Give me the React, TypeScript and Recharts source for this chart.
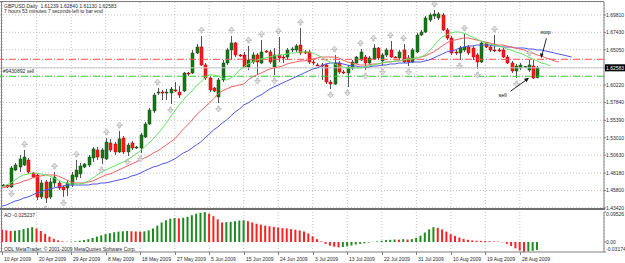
import React from "react";
import {
  Bar,
  CartesianGrid,
  Cell,
  ComposedChart,
  Line,
  ReferenceDot,
  ReferenceLine,
  XAxis,
  YAxis,
} from "recharts";

const FONT = "'Liberation Sans', Arial, sans-serif";
const TXT = "#2a2a2a";
const GRID = "#c4c4c4";
const FRAME = "#808080";
const BULL = "#127a12";
const BEAR = "#ff1a1a";
const WICK = "#555555";

const W = 625;
const AXIS_W = 21;
const SLOTS = 140;

// GBPUSD daily, 10 Apr 2009 .. 2 Sep 2009 (ODL feed with Sunday bars)
const dateLabels = [
  "10 Apr 2009", "20 Apr 2009", "29 Apr 2009", "8 May 2009", "18 May 2009", "27 May 2009",
  "5 Jun 2009", "15 Jun 2009", "24 Jun 2009", "3 Jul 2009", "13 Jul 2009", "22 Jul 2009",
  "31 Jul 2009", "10 Aug 2009", "19 Aug 2009", "28 Aug 2009",
];
const dateIdx = [0, 8, 16, 24, 32, 40, 48, 56, 64, 72, 80, 88, 96, 104, 112, 120];

const open = [
  1.4650, 1.4655, 1.4628, 1.4860, 1.4901, 1.4929, 1.4997, 1.4819, 1.4792, 1.4491,
  1.4696, 1.4491, 1.4683, 1.4683, 1.4628, 1.4614, 1.4655, 1.4765, 1.4806, 1.4901,
  1.4929, 1.5025, 1.5134, 1.5025, 1.5011, 1.5230, 1.5216, 1.5107, 1.5298, 1.5107,
  1.5230, 1.5161, 1.5161, 1.5312, 1.5490, 1.5668, 1.5914, 1.5927, 1.5914, 1.5914,
  1.5955, 1.5927, 1.5941, 1.6187, 1.6187, 1.6461, 1.6543, 1.6297, 1.6119, 1.5982,
  1.5859, 1.6092, 1.6324, 1.6502, 1.6598, 1.6434, 1.6434, 1.6269, 1.6338, 1.6434,
  1.6324, 1.6488, 1.6475, 1.6269, 1.6434, 1.6406, 1.6406, 1.6502, 1.6502, 1.6570,
  1.6475, 1.6475, 1.6338, 1.6297, 1.6297, 1.6297, 1.6064, 1.6037, 1.6324, 1.6201,
  1.6187, 1.6256, 1.6324, 1.6365, 1.6406, 1.6324, 1.6379, 1.6529, 1.6352, 1.6434,
  1.6502, 1.6406, 1.6393, 1.6502, 1.6393, 1.6338, 1.6475, 1.6707, 1.6748, 1.6912,
  1.6967, 1.6940, 1.6981, 1.6776, 1.6666, 1.6475, 1.6461, 1.6502, 1.6543, 1.6529,
  1.6434, 1.6338, 1.6598, 1.6543, 1.6502, 1.6502, 1.6502, 1.6406, 1.6324, 1.6215,
  1.6256, 1.6269, 1.6228, 1.6283, 1.61239,
];
const high = [
  1.4669, 1.4669, 1.4915, 1.4956, 1.5066, 1.5134, 1.5025, 1.4833, 1.4806, 1.4724,
  1.4724, 1.4751, 1.4833, 1.4710, 1.4642, 1.4724, 1.4833, 1.4997, 1.4956, 1.4956,
  1.5066, 1.5175, 1.5175, 1.5161, 1.5298, 1.5285, 1.5243, 1.5394, 1.5326, 1.5230,
  1.5257, 1.5189, 1.5367, 1.5517, 1.5709, 1.5914, 1.5982, 1.5955, 1.5968, 1.5996,
  1.6064, 1.6010, 1.6201, 1.6201, 1.6502, 1.6584, 1.6694, 1.6324, 1.6146, 1.5996,
  1.6119, 1.6365, 1.6529, 1.6694, 1.6611, 1.6447, 1.6475, 1.6557, 1.6475, 1.6461,
  1.6639, 1.6502, 1.6502, 1.6529, 1.6680, 1.6434, 1.6529, 1.6543, 1.6584, 1.6803,
  1.6502, 1.6502, 1.6365, 1.6324, 1.6324, 1.6311, 1.6092, 1.6434, 1.6352, 1.6228,
  1.6297, 1.6365, 1.6420, 1.6516, 1.6434, 1.6420, 1.6584, 1.6543, 1.6461, 1.6529,
  1.6625, 1.6420, 1.6502, 1.6584, 1.6434, 1.6529, 1.6735, 1.6776, 1.6967, 1.7008,
  1.7049, 1.7022, 1.7008, 1.6803, 1.6694, 1.6502, 1.6557, 1.6721, 1.6570, 1.6557,
  1.6461, 1.6611, 1.6611, 1.6570, 1.6707, 1.6529, 1.6529, 1.6434, 1.6352, 1.6311,
  1.6324, 1.6283, 1.6379, 1.6365, 1.62840,
];
const low = [
  1.4628, 1.4614, 1.4614, 1.4847, 1.4833, 1.4915, 1.4806, 1.4751, 1.4450, 1.4464,
  1.4409, 1.4464, 1.4628, 1.4587, 1.4491, 1.4505, 1.4628, 1.4724, 1.4751, 1.4888,
  1.4901, 1.4970, 1.4997, 1.4942, 1.4997, 1.5107, 1.5066, 1.5093, 1.5079, 1.5052,
  1.5134, 1.5148, 1.5093, 1.5298, 1.5476, 1.5640, 1.5886, 1.5818, 1.5818, 1.5763,
  1.5927, 1.5845, 1.5927, 1.6146, 1.6174, 1.6447, 1.6283, 1.6092, 1.5927, 1.5927,
  1.5777, 1.6064, 1.6297, 1.6365, 1.6406, 1.6406, 1.6256, 1.6228, 1.6311, 1.6160,
  1.6311, 1.6461, 1.6311, 1.6160, 1.6338, 1.6324, 1.6365, 1.6475, 1.6475, 1.6434,
  1.6447, 1.6311, 1.6297, 1.6283, 1.6092, 1.6037, 1.5968, 1.6023, 1.6174, 1.6174,
  1.5996, 1.6228, 1.6311, 1.6352, 1.6228, 1.6297, 1.6365, 1.6365, 1.6283, 1.6406,
  1.6393, 1.6393, 1.6365, 1.6324, 1.6283, 1.6324, 1.6461, 1.6694, 1.6735, 1.6885,
  1.6926, 1.6912, 1.6762, 1.6639, 1.6434, 1.6434, 1.6365, 1.6475, 1.6434, 1.6365,
  1.6242, 1.6324, 1.6529, 1.6475, 1.6475, 1.6475, 1.6393, 1.6311, 1.6187, 1.6119,
  1.6228, 1.6256, 1.6201, 1.6105, 1.61130,
];
const close = [
  1.4655, 1.4628, 1.4888, 1.4929, 1.5011, 1.5038, 1.4833, 1.4765, 1.4491, 1.4683,
  1.4477, 1.4696, 1.4765, 1.4614, 1.4587, 1.4683, 1.4792, 1.4860, 1.4915, 1.4942,
  1.5038, 1.5148, 1.5038, 1.5134, 1.5243, 1.5134, 1.5107, 1.5285, 1.5107, 1.5202,
  1.5161, 1.5175, 1.5339, 1.5490, 1.5681, 1.5886, 1.5927, 1.5914, 1.5927, 1.5968,
  1.5941, 1.5886, 1.6187, 1.6174, 1.6461, 1.6543, 1.6297, 1.6119, 1.5955, 1.5941,
  1.6092, 1.6324, 1.6502, 1.6598, 1.6434, 1.6420, 1.6269, 1.6365, 1.6434, 1.6338,
  1.6475, 1.6475, 1.6338, 1.6434, 1.6393, 1.6393, 1.6502, 1.6516, 1.6557, 1.6461,
  1.6461, 1.6338, 1.6324, 1.6290, 1.6283, 1.6064, 1.6037, 1.6324, 1.6201, 1.6187,
  1.6269, 1.6338, 1.6406, 1.6475, 1.6324, 1.6393, 1.6529, 1.6393, 1.6434, 1.6502,
  1.6406, 1.6400, 1.6475, 1.6338, 1.6338, 1.6502, 1.6707, 1.6748, 1.6940, 1.6981,
  1.6995, 1.6995, 1.6776, 1.6666, 1.6461, 1.6461, 1.6529, 1.6543, 1.6461, 1.6406,
  1.6338, 1.6598, 1.6543, 1.6502, 1.6495, 1.6488, 1.6406, 1.6324, 1.6215, 1.6283,
  1.6297, 1.6275, 1.6297, 1.6119, 1.62583,
];

// Alligator: lips (green), teeth (red), jaw (blue) - shifted forward past the last bar
const lips = [
  1.4628, 1.4655, 1.4683, 1.4724, 1.4765, 1.4792, 1.4806, 1.4819, 1.4819, 1.4806,
  1.4792, 1.4778, 1.4751, 1.4724, 1.4696, 1.4683, 1.4669, 1.4669, 1.4669, 1.4683,
  1.4710, 1.4751, 1.4792, 1.4833, 1.4860, 1.4888, 1.4915, 1.4942, 1.4970, 1.4997,
  1.5038, 1.5079, 1.5120, 1.5175, 1.5230, 1.5285, 1.5353, 1.5421, 1.5503, 1.5585,
  1.5668, 1.5750, 1.5818, 1.5886, 1.5941, 1.6010, 1.6064, 1.6119, 1.6160, 1.6160,
  1.6146, 1.6119, 1.6092, 1.6119, 1.6160, 1.6228, 1.6269, 1.6311, 1.6338, 1.6365,
  1.6379, 1.6393, 1.6406, 1.6420, 1.6434, 1.6434, 1.6447, 1.6461, 1.6461, 1.6475,
  1.6475, 1.6475, 1.6461, 1.6434, 1.6406, 1.6365, 1.6338, 1.6311, 1.6283, 1.6269,
  1.6256, 1.6256, 1.6256, 1.6256, 1.6269, 1.6283, 1.6297, 1.6311, 1.6324, 1.6338,
  1.6338, 1.6352, 1.6352, 1.6365, 1.6379, 1.6379, 1.6393, 1.6406, 1.6434, 1.6488,
  1.6557, 1.6625, 1.6680, 1.6707, 1.6735, 1.6748, 1.6748, 1.6735, 1.6707, 1.6680,
  1.6653, 1.6625, 1.6598, 1.6584, 1.6570, 1.6557, 1.6543, 1.6516, 1.6502, 1.6475,
  1.6461, 1.6434, 1.6406, 1.6379, 1.6352, 1.6324, 1.6311, 1.6283,
];
const teeth = [
  1.4614, 1.4628, 1.4655, 1.4669, 1.4683, 1.4710, 1.4724, 1.4751, 1.4765, 1.4778,
  1.4792, 1.4792, 1.4792, 1.4778, 1.4751, 1.4724, 1.4696, 1.4683, 1.4683, 1.4683,
  1.4696, 1.4710, 1.4737, 1.4765, 1.4792, 1.4806, 1.4833, 1.4860, 1.4888, 1.4915,
  1.4942, 1.4970, 1.4997, 1.5025, 1.5052, 1.5093, 1.5120, 1.5161, 1.5202, 1.5243,
  1.5285, 1.5353, 1.5421, 1.5476, 1.5544, 1.5613, 1.5668, 1.5722, 1.5777, 1.5832,
  1.5900, 1.5941, 1.5968, 1.5996, 1.6010, 1.6023, 1.6037, 1.6092, 1.6133, 1.6160,
  1.6187, 1.6215, 1.6242, 1.6256, 1.6269, 1.6283, 1.6311, 1.6324, 1.6338, 1.6352,
  1.6352, 1.6365, 1.6379, 1.6393, 1.6406, 1.6406, 1.6406, 1.6406, 1.6393, 1.6365,
  1.6338, 1.6324, 1.6311, 1.6297, 1.6297, 1.6297, 1.6311, 1.6311, 1.6324, 1.6338,
  1.6338, 1.6352, 1.6352, 1.6365, 1.6379, 1.6379, 1.6393, 1.6406, 1.6420, 1.6447,
  1.6475, 1.6516, 1.6557, 1.6598, 1.6625, 1.6639, 1.6653, 1.6666, 1.6666, 1.6653,
  1.6639, 1.6625, 1.6611, 1.6598, 1.6584, 1.6570, 1.6570, 1.6557, 1.6543, 1.6529,
  1.6516, 1.6502, 1.6475, 1.6461, 1.6434, 1.6420, 1.6393, 1.6379, 1.6352, 1.6338,
];
const jaw = [
  1.4368, 1.4382, 1.4409, 1.4436, 1.4450, 1.4477, 1.4491, 1.4518, 1.4546, 1.4559,
  1.4587, 1.4600, 1.4614, 1.4628, 1.4642, 1.4655, 1.4655, 1.4655, 1.4655, 1.4655,
  1.4655, 1.4669, 1.4669, 1.4683, 1.4683, 1.4696, 1.4710, 1.4724, 1.4737, 1.4751,
  1.4778, 1.4792, 1.4819, 1.4847, 1.4874, 1.4901, 1.4915, 1.4942, 1.4956, 1.4984,
  1.5011, 1.5052, 1.5093, 1.5120, 1.5161, 1.5202, 1.5243, 1.5298, 1.5353, 1.5408,
  1.5449, 1.5503, 1.5544, 1.5599, 1.5654, 1.5695, 1.5750, 1.5777, 1.5818, 1.5859,
  1.5886, 1.5927, 1.5968, 1.5996, 1.6023, 1.6051, 1.6078, 1.6105, 1.6133, 1.6160,
  1.6187, 1.6215, 1.6242, 1.6256, 1.6283, 1.6311, 1.6324, 1.6324, 1.6324, 1.6311,
  1.6297, 1.6283, 1.6283, 1.6269, 1.6269, 1.6269, 1.6283, 1.6283, 1.6297, 1.6297,
  1.6311, 1.6311, 1.6324, 1.6324, 1.6324, 1.6338, 1.6338, 1.6338, 1.6352, 1.6365,
  1.6393, 1.6420, 1.6447, 1.6475, 1.6488, 1.6502, 1.6529, 1.6543, 1.6557, 1.6557,
  1.6570, 1.6570, 1.6570, 1.6570, 1.6557, 1.6557, 1.6543, 1.6543, 1.6543, 1.6529,
  1.6529, 1.6529, 1.6516, 1.6516, 1.6502, 1.6502, 1.6488, 1.6475, 1.6461, 1.6447,
  1.6434, 1.6420, 1.6406,
];

const fractalUp = [5, 12, 17, 24, 27, 36, 46, 53, 57, 60, 64, 69, 77, 83, 86, 90, 93, 100, 107, 114, 122];
const fractalDown = [2, 10, 14, 23, 29, 32, 39, 50, 59, 63, 76, 80, 84, 88, 94, 106, 110, 119];

// Awesome Oscillator
const ao = [
  0.040, 0.037, 0.035, 0.036, 0.038, 0.041, 0.044, 0.047, 0.043, 0.035,
  0.026, 0.017, 0.010, 0.005, 0.002, 0.001, 0.0012, 0.002, 0.004, 0.006,
  0.009, 0.013, 0.017, 0.021, 0.025, 0.028, 0.031, 0.033, 0.034, 0.035,
  0.034, 0.0335, 0.033, 0.034, 0.037, 0.043, 0.052, 0.062, 0.069, 0.074,
  0.076, 0.075, 0.077, 0.080, 0.085, 0.090, 0.093, 0.0953, 0.090, 0.082,
  0.072, 0.062, 0.063, 0.064, 0.066, 0.068, 0.069, 0.066, 0.062, 0.058,
  0.055, 0.052, 0.050, 0.048, 0.046, 0.044, 0.043, 0.041, 0.039, 0.037,
  0.033, 0.027, 0.018, 0.009, 0.002, -0.006, -0.012, -0.015, -0.017, -0.016,
  -0.014, -0.011, -0.008, -0.006, -0.004, -0.002, 0.0005, 0.002, 0.004, 0.006,
  0.007, 0.008, 0.0075, 0.009, 0.008, 0.009, 0.013, 0.020, 0.030, 0.040,
  0.047, 0.045, 0.040, 0.033, 0.025, 0.019, 0.014, 0.010, 0.007, 0.005,
  0.004, 0.0035, 0.003, 0.0025, 0.002, 0.0015, -0.001, -0.006, -0.013, -0.020,
  -0.027, -0.0317, -0.030, -0.028, -0.025237,
];

const priceTicks = [1.6981, 1.6743, 1.6505, 1.62583, 1.6022, 1.5784, 1.5539, 1.5301, 1.5063, 1.4818, 1.458, 1.4342];
const aoTicks = [0.09526, 0, -0.03174];
const aoTickText: Record<string, string> = { "0.09526": "0.09526", "0": "0.00", "-0.03174": "-0.03174" };

const BID = 1.62583;
const STOP = 1.6375;
const ENTRY = 1.6143;

const rows = Array.from({ length: SLOTS }, (_, i) => {
  const has = i < open.length;
  return {
    i,
    o: has ? open[i] : null,
    h: has ? high[i] : null,
    l: has ? low[i] : null,
    c: has ? close[i] : null,
    range: has ? [low[i], high[i]] : null,
    lips: i < lips.length ? lips[i] : null,
    teeth: i < teeth.length ? teeth[i] : null,
    jaw: i < jaw.length ? jaw[i] : null,
    up: fractalUp.includes(i) ? high[i] : null,
    dn: fractalDown.includes(i) ? low[i] : null,
    ao: i < ao.length ? ao[i] : null,
  };
});

function Candle(props: any) {
  const { x, y, width, height, payload } = props;
  if (!payload || payload.o == null || x == null || y == null) return <g />;
  const { o, h, l, c } = payload;
  const top = Math.min(y, y + height);
  const span = Math.abs(height);
  const px = (v: number) => (h === l ? top : top + ((h - v) / (h - l)) * span);
  const cx = Math.round(x + width / 2) + 0.5;
  const bTop = px(Math.max(o, c));
  const bBot = px(Math.min(o, c));
  const bull = c >= o;
  return (
    <g>
      <line x1={cx} x2={cx} y1={top} y2={top + span} stroke={WICK} strokeWidth={1} />
      <rect
        x={cx - 1.5}
        y={bTop}
        width={3}
        height={Math.max(bBot - bTop, 1)}
        fill={bull ? BULL : BEAR}
        stroke={bull ? "#1f4d1f" : "#b30000"}
        strokeWidth={0.5}
      />
    </g>
  );
}

function fractal(dir: number) {
  return (props: any) => {
    const { cx, cy, value, index } = props;
    const key = `f${dir}-${index}`;
    if (value == null || cy == null || cx == null) return <g key={key} />;
    const x = Math.round(cx) + 0.5;
    const base = cy - dir * 3;
    const tip = base - dir * 6;
    const mid = tip + dir * 3.5;
    const d = `M${x},${tip} L${x + 3},${mid} L${x + 0.8},${mid} L${x + 0.8},${base} L${x - 0.8},${base} L${x - 0.8},${mid} L${x - 3},${mid} Z`;
    return <path key={key} d={d} fill="#e2e2e2" stroke="#9a9a9a" strokeWidth={0.5} />;
  };
}

function PriceTick({ x, y, payload }: any) {
  const v = payload.value as number;
  if (v === BID) {
    return (
      <g>
        <rect x={x - 1} y={y - 3.5} width={22} height={7} fill="#000" />
        <text x={x} y={y + 1.8} fontSize={5} fontFamily={FONT} fill="#fff">
          {v.toFixed(5)}
        </text>
      </g>
    );
  }
  return (
    <text x={x} y={y + 1.8} fontSize={5} fontFamily={FONT} fill={TXT}>
      {v.toFixed(5)}
    </text>
  );
}

function AoTick({ x, y, payload }: any) {
  const v = payload.value as number;
  const dy = v > 0 ? 3.5 : v < 0 ? -1.5 : 1.8;
  return (
    <text x={x} y={y + dy} fontSize={5} fontFamily={FONT} fill={TXT}>
      {aoTickText[String(v)]}
    </text>
  );
}

function DateTick({ x, y, payload }: any) {
  const label = dateLabels[dateIdx.indexOf(payload.value)];
  const tx = Math.round(x) + 0.5;
  return (
    <g>
      <line x1={tx} x2={tx} y1={y} y2={y + 3} stroke={FRAME} />
      <text x={tx + 1.5} y={y + 8.5} fontSize={5} fontFamily={FONT} fill={TXT}>
        {label}
      </text>
    </g>
  );
}

function StopNote({ cx, cy }: any) {
  if (cx == null || cy == null) return <g />;
  return (
    <g>
      <line x1={cx + 5} y1={cy - 21} x2={cx + 0.5} y2={cy - 4} stroke="#111" strokeWidth={0.9} />
      <path d={`M${cx},${cy - 1} L${cx - 1.6},${cy - 6} L${cx + 2},${cy - 5.2} Z`} fill="#111" />
      <text x={cx - 1} y={cy - 25} fontSize={5.5} fontFamily={FONT} fill="#111">
        stop
      </text>
    </g>
  );
}

function SellNote({ cx, cy }: any) {
  if (cx == null || cy == null) return <g />;
  return (
    <g>
      <line x1={cx - 18} y1={cy + 15} x2={cx - 2} y2={cy + 3.5} stroke="#111" strokeWidth={0.9} />
      <path d={`M${cx + 0.5},${cy + 1.5} L${cx - 4.5},${cy + 2.5} L${cx - 2},${cy + 6} Z`} fill="#111" />
      <text x={cx - 30} y={cy + 21} fontSize={5.5} fontFamily={FONT} fill="#111">
        sell
      </text>
    </g>
  );
}

export default function App() {
  return (
    <div style={{ position: "fixed", left: 0, top: 0, width: W, height: 263, background: "#fff", overflow: "hidden" }}>
      <div style={{ position: "absolute", left: 0, top: 0 }}>
        <ComposedChart width={W} height={210} data={rows} margin={{ top: 2, right: 0, bottom: 2, left: 0 }}>
          <CartesianGrid stroke={GRID} strokeDasharray="1 2" />
          <XAxis dataKey="i" hide ticks={dateIdx} interval={0} />
          <YAxis
            orientation="right"
            width={AXIS_W}
            domain={[1.43406, 1.71586]}
            allowDataOverflow
            ticks={priceTicks}
            interval={0}
            tickSize={2}
            tickMargin={0}
            axisLine={{ stroke: FRAME }}
            tickLine={{ stroke: FRAME }}
            tick={<PriceTick />}
          />
          <ReferenceLine y={BID} stroke="#c8c8c8" strokeWidth={1} />
          <ReferenceLine y={STOP} stroke="#ff5050" strokeDasharray="7 2 1 2" />
          <ReferenceLine
            y={ENTRY}
            stroke="#2ecc2e"
            strokeDasharray="7 2 1 2"
            label={{ value: "#9430892 sell", position: "insideBottomLeft", offset: 3, fontSize: 5, fill: TXT, fontFamily: FONT }}
          />
          <Line dataKey="jaw" stroke="#4f55e6" strokeWidth={1} dot={false} activeDot={false} isAnimationActive={false} />
          <Line dataKey="teeth" stroke="#f26060" strokeWidth={1} dot={false} activeDot={false} isAnimationActive={false} />
          <Line dataKey="lips" stroke="#62e462" strokeWidth={1} dot={false} activeDot={false} isAnimationActive={false} />
          <Bar dataKey="range" barSize={3} shape={<Candle />} isAnimationActive={false} />
          <Line dataKey="up" stroke="none" dot={fractal(1)} activeDot={false} isAnimationActive={false} />
          <Line dataKey="dn" stroke="none" dot={fractal(-1)} activeDot={false} isAnimationActive={false} />
          <ReferenceDot x={125} y={STOP} r={0} shape={<StopNote />} />
          <ReferenceDot x={122} y={ENTRY} r={0} shape={<SellNote />} />
        </ComposedChart>
      </div>
      <div style={{ position: "absolute", left: 0, top: 210 }}>
        <ComposedChart width={W} height={53} data={rows} margin={{ top: 2, right: 0, bottom: 0, left: 0 }}>
          <CartesianGrid horizontal={false} stroke={GRID} strokeDasharray="1 2" />
          <XAxis
            dataKey="i"
            ticks={dateIdx}
            interval={0}
            height={11}
            tickSize={0}
            tickMargin={0}
            axisLine={{ stroke: FRAME }}
            tickLine={false}
            tick={<DateTick />}
          />
          <YAxis
            orientation="right"
            width={AXIS_W}
            domain={[-0.03174, 0.09526]}
            allowDataOverflow
            ticks={aoTicks}
            interval={0}
            tickSize={2}
            tickMargin={0}
            axisLine={{ stroke: FRAME }}
            tickLine={{ stroke: FRAME }}
            tick={<AoTick />}
          />
          <Bar dataKey="ao" barSize={2} isAnimationActive={false}>
            {rows.map((r, i) => (
              <Cell key={i} fill={i > 0 && r.ao != null && r.ao > (rows[i - 1].ao as number) ? "#1f8a1f" : "#ff2020"} />
            ))}
          </Bar>
        </ComposedChart>
      </div>
      {/* window frame and pane separator */}
      <div style={{ position: "absolute", left: 0, top: 1, width: 604, height: 1, background: FRAME }} />
      <div style={{ position: "absolute", left: 1, top: 1, width: 1, height: 251, background: FRAME }} />
      <div style={{ position: "absolute", left: 0, top: 208, width: 605, height: 2, background: "#6e6e6e" }} />
      <svg width={W} height={263} style={{ position: "absolute", left: 0, top: 0, pointerEvents: "none" }}>
        <g fontFamily={FONT} fontSize={5} fill={TXT}>
          <text x={4} y={7.8} style={{ whiteSpace: "pre" }}>
            {"GBPUSD,Daily  1.61239 1.62840 1.61130 1.62583"}
          </text>
          <text x={4} y={12.8}>7 hours 53 minutes 7 seconds left to bar end</text>
          <text x={4} y={216.5}>AO -0.025237</text>
          <text x={4} y={250.5}>ODL MetaTrader, © 2001-2009 MetaQuotes Software Corp.</text>
        </g>
      </svg>
    </div>
  );
}
